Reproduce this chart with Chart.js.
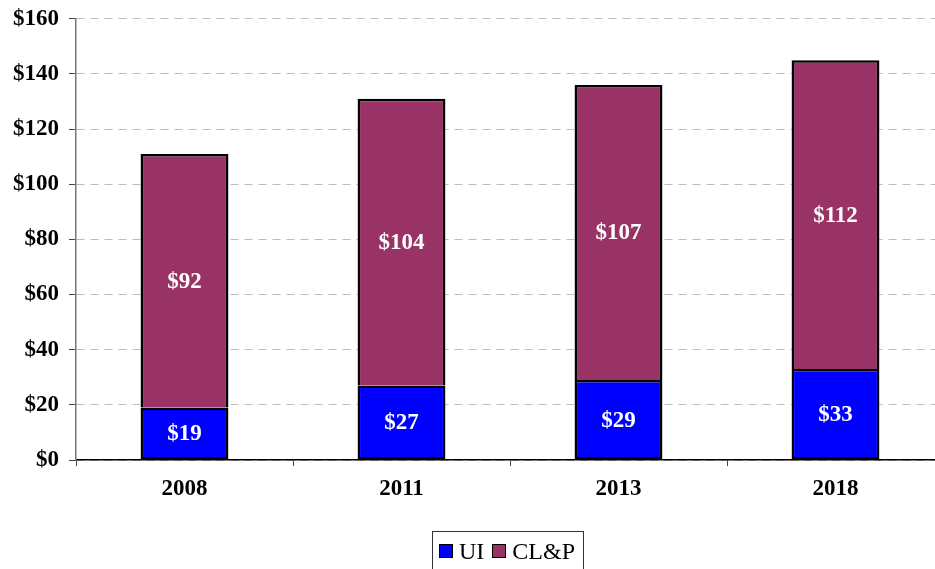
<!DOCTYPE html>
<html>
<head>
<meta charset="utf-8">
<script src="https://cdn.jsdelivr.net/npm/chart.js@4/dist/chart.umd.min.js"></script>
<style>
    html, body { margin: 0; padding: 0; background: #fff; overflow: hidden; }
    #wrap { position: relative; width: 935px; height: 569px; overflow: hidden; }
    #costChart { position: absolute; left: 0; top: -5px; }
    #legend {
        position: absolute; left: 432px; top: 531px; width: 152px; height: 44px;
        border: 1px solid #333; box-sizing: border-box;
        font-family: "Liberation Serif", "Times New Roman", serif; font-size: 24px; color: #000;
        display: flex; align-items: flex-start; padding: 6px 0 0 6px;
    }
    #legend .item { display: flex; align-items: center; margin-right: 8px; line-height: 26px; }
    #legend .swatch { width: 12px; height: 12px; border: 1px solid #000; margin-right: 6px; }
</style>
</head>
<body>
<div id="wrap">
    <canvas id="costChart" width="950" height="574"></canvas>
    <div id="legend"></div>
</div>
<script>
// --- DATA ---
const years = ['2008', '2011', '2013', '2018'];
const uiValues = [19, 27, 29, 33];
const clpValues = [92, 104, 107, 112];
const seriesNames = ['UI', 'CL&P'];
const seriesColors = ['#0000FF', '#993366'];

const serif = '"Liberation Serif", "Times New Roman", serif';

// Writes the dollar value in the middle of each bar segment
const segmentLabels = {
    id: 'segmentLabels',
    afterDatasetsDraw(chart) {
        const ctx = chart.ctx;
        ctx.save();
        ctx.fillStyle = '#fff';
        ctx.font = 'bold 23px ' + serif;
        ctx.textAlign = 'center';
        ctx.textBaseline = 'middle';
        chart.data.datasets.forEach((ds, i) => {
            chart.getDatasetMeta(i).data.forEach((bar, j) => {
                const mid = (bar.y + bar.base) / 2;
                ctx.fillText('$' + ds.data[j], bar.x, mid + 1);
            });
        });
        ctx.restore();
    }
};

function initCostChart() {
    const ctx = document.getElementById('costChart').getContext('2d');
    const chart = new Chart(ctx, {
        type: 'bar',
        data: {
            labels: years,
            datasets: [
                {
                    label: seriesNames[0],
                    data: uiValues,
                    backgroundColor: seriesColors[0],
                    borderColor: '#000',
                    borderWidth: 2.5,
                    borderSkipped: false
                },
                {
                    label: seriesNames[1],
                    data: clpValues,
                    backgroundColor: seriesColors[1],
                    borderColor: '#000',
                    borderWidth: 2.5,
                    borderSkipped: 'start'
                }
            ]
        },
        options: {
            responsive: false,
            animation: false,
            devicePixelRatio: 1,
            categoryPercentage: 1,
            barPercentage: 0.405,
            layout: { padding: { top: 14, right: 6, left: 0, bottom: 0 } },
            plugins: {
                legend: { display: false },
                tooltip: { enabled: false }
            },
            scales: {
                x: {
                    stacked: true,
                    offset: true,
                    grid: {
                        offset: true,
                        drawOnChartArea: false,
                        drawTicks: true,
                        tickLength: 6,
                        tickColor: '#444'
                    },
                    border: { color: '#000', width: 1.5 },
                    ticks: {
                        color: '#000',
                        padding: 9,
                        font: { family: serif, size: 23, weight: 'bold' }
                    },
                    afterFit(scale) { scale.height = 109; }
                },
                y: {
                    stacked: true,
                    min: 0,
                    max: 160,
                    grid: {
                        color: '#bdbdbd',
                        tickColor: '#444',
                        tickLength: 7,
                        lineWidth: 1
                    },
                    border: { color: '#777', width: 1.5, dash: [8, 6] },
                    ticks: {
                        stepSize: 20,
                        color: '#000',
                        padding: 10,
                        font: { family: serif, size: 23, weight: 'bold' },
                        callback: (v) => '$' + v
                    },
                    afterFit(scale) { scale.width = 76; }
                }
            }
        },
        plugins: [segmentLabels]
    });

    // Legend built from the chart's own datasets
    const legend = document.getElementById('legend');
    chart.data.datasets.forEach((ds) => {
        const item = document.createElement('div');
        item.className = 'item';
        item.innerHTML = `<span class="swatch" style="background:${ds.backgroundColor}"></span><span>${ds.label.replace('&', '&amp;')}</span>`;
        legend.appendChild(item);
    });
}

initCostChart();
</script>
</body>
</html>
